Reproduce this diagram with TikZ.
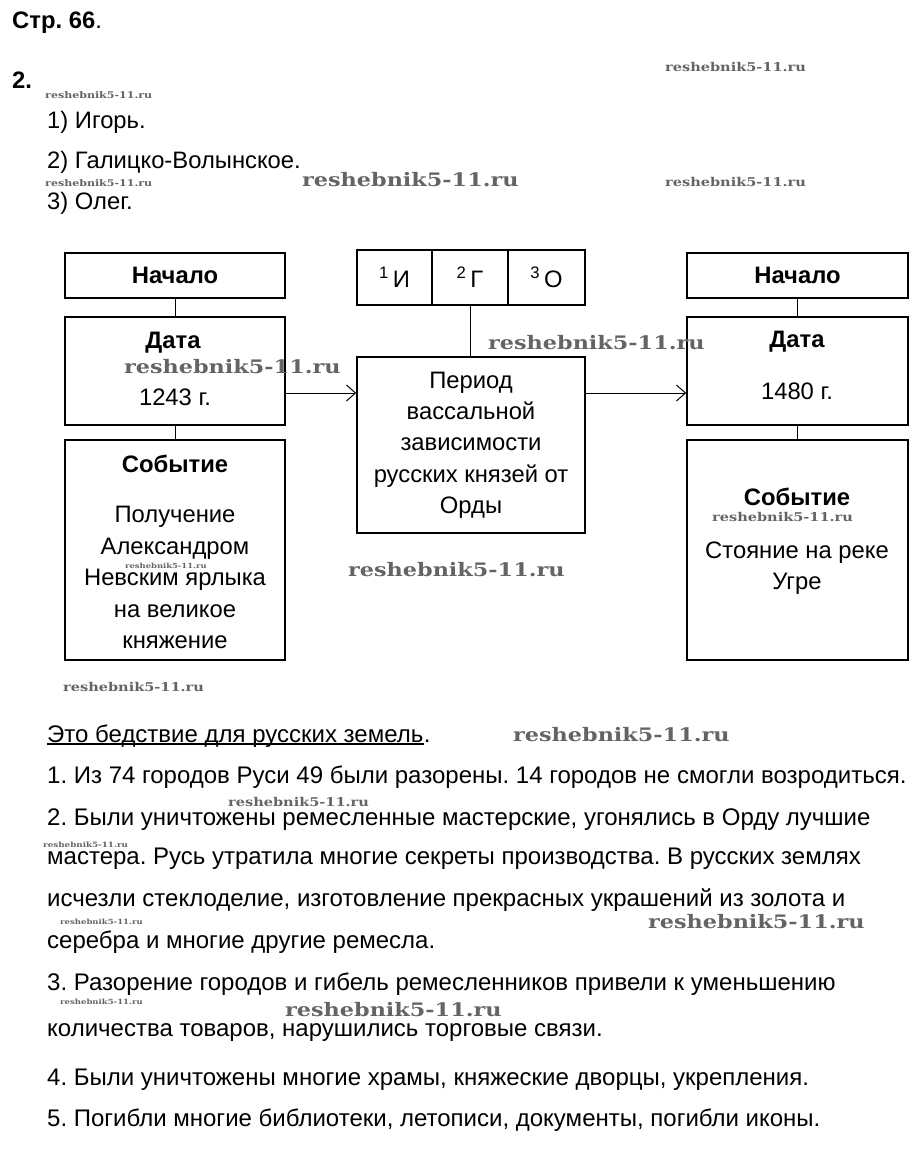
\documentclass[tikz,border=0pt]{standalone}
\usepackage{fontspec}
\setmainfont{Liberation Sans}
\newfontfamily\wmfont[FakeStretch=1.2]{DejaVu Serif}
\usetikzlibrary{arrows.meta,calc}
\definecolor{wmgray}{RGB}{100,100,100}
\frenchspacing
\tikzset{
  box/.style={draw, line width=1.6pt, inner sep=0pt},
  txt/.style={inner sep=0pt, anchor=base, font=\fontsize{23.8}{28}\selectfont},
  hdr/.style={txt, font=\fontsize{23.8}{28}\selectfont\bfseries},
  para/.style={inner sep=0pt, anchor=base west, font=\fontsize{24}{28}\selectfont},
  link/.style={line width=1pt},
  arr/.style={link, -{Straight Barb[length=9pt,width=16pt]}},
  wm/.style={inner sep=0pt, anchor=base west, text=wmgray, font=\wmfont\bfseries\fontsize{#1}{#1}\selectfont},
}

\begin{document}
\begin{tikzpicture}[x=1pt,y=-1pt]
\useasboundingbox (0,0) rectangle (923,1173);

% heading and answers
\node[hdr, anchor=base west] (page) at (12,28) {Стр. 66\mdseries.};
\node[hdr, anchor=base west] (task) at (12,88) {2.};
\foreach \y/\t in {128/{1) Игорь.}, 168/{2) Галицко-Волынское.}, 209/{3) Олег.}}
  \node[txt, anchor=base west] (ans\y) at (47,\y) {\t};

% left column
\node[hdr, box, anchor=center, minimum width=220pt, minimum height=45pt] (startL) at (175,275.5) {Начало};
\node[box, minimum width=220pt, minimum height=108pt] (dateL) at (175,371) {};
\node[box, minimum width=220pt, minimum height=220pt] (eventL) at (175,550) {};
\node[hdr] (dateLh) at (173,348) {Дата};
\node[txt] (dateLv) at (175,405) {1243 г.};
\node[hdr] (eventLh) at (175,472) {Событие};
\foreach \y/\t in {522/Получение, 554/Александром, 585/Невским ярлыка, 617/на великое, 648/княжение}
  \node[txt] (evL\y) at (175,\y) {\t};

% right column
\node[hdr, box, anchor=center, minimum width=221pt, minimum height=45pt] (startR) at (797.5,275.5) {Начало};
\node[box, minimum width=221pt, minimum height=108pt] (dateR) at (797.5,371) {};
\node[box, minimum width=221pt, minimum height=220pt] (eventR) at (797.5,550) {};
\node[hdr] (dateRh) at (797,347) {Дата};
\node[txt] (dateRv) at (797,399) {1480 г.};
\node[hdr] (eventRh) at (797,505) {Событие};
\foreach \y/\t in {558/Стояние на реке, 589/Угре}
  \node[txt] (evR\y) at (797,\y) {\t};

% middle: letters and period
\foreach \n/\x/\w/\t in {I/394.5/75pt/{\textsuperscript{1}\,И}, G/470/76pt/{\textsuperscript{2}\,Г}, O/546.5/77pt/{\textsuperscript{3}\,О}}
  \node[txt, box, anchor=center, minimum width=\w, minimum height=55pt] (cell\n) at (\x,277.5) {\t};
\node[box, minimum width=228pt, minimum height=176pt] (period) at (471,445) {};
\foreach \y/\t in {388/Период, 419/вассальной, 450/зависимости, 482/русских князей от, 513/Орды}
  \node[txt] (per\y) at (471,\y) {\t};

% connectors
\draw[link] (startL) -- (dateL);
\draw[link] (dateL) -- (eventL);
\draw[link] (startR) -- (dateR);
\draw[link] (dateR) -- (eventR);
\draw[link] (cellG.south) -- (cellG.south |- period.north);
\draw[arr] ([yshift=-22pt]dateL.east) -- ([yshift=-22pt]dateL.east -| period.west);
\draw[arr] ([yshift=-22pt]dateR.west -| period.east) -- ([yshift=-22pt]dateR.west);

% text below
\node[para] (lead) at (47,742) {Это бедствие для русских земель};
\node[para] (leaddot) at (lead.base east) {.};
\draw[line width=1.6pt] ([yshift=-2pt]lead.base west) -- ([yshift=-2pt]lead.base east);
\foreach \y/\t in {%
  783/{1. Из 74 городов Руси 49 были разорены. 14 городов не смогли возродиться.},%
  825/{2. Были уничтожены ремесленные мастерские, угонялись в Орду лучшие},%
  864/{мастера. Русь утратила многие секреты производства. В русских землях},%
  906/{исчезли стеклоделие, изготовление прекрасных украшений из золота и},%
  948/{серебра и многие другие ремесла.},%
  990/{3. Разорение городов и гибель ремесленников привели к уменьшению},%
  1036/{количества товаров, нарушились торговые связи.},%
  1085/{4. Были уничтожены многие храмы, княжеские дворцы, укрепления.},%
  1126/{5. Погибли многие библиотеки, летописи, документы, погибли иконы.}%
}
  \node[para] (line\y) at (47,\y) {\t};

% watermarks
\foreach \x/\y/\s [count=\i] in {665/71/12.1, 45/98/9.2, 45/186/9.2, 302/186/18.6,
    665/186/12.1, 124/373/18.6, 488/349/18.6, 712/521/12.1, 348/576/18.6,
    125/568/7, 63/691/12.1, 513/741/18.6, 228/806/12.1, 43/847/7.3,
    60/924/7.1, 648/928/18.6, 60/1004/7.1, 285/1016/18.6}
  \node[wm=\s] (wm\i) at (\x,\y) {reshebnik5-11.ru};
\end{tikzpicture}
\end{document}
